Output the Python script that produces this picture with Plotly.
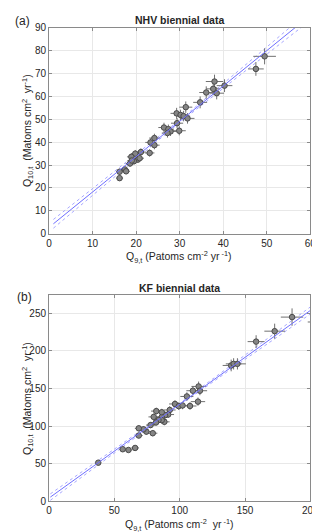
import numpy as np
import plotly.graph_objects as go

# (a) NHV biennial data
nhv_q9 = [49.5, 47.5, 38.0, 37.7, 40.3, 36.1, 38.5, 34.7, 31.4, 29.3, 30.2, 30.9, 31.8,
          29.4, 26.4, 27.4, 27.9, 29.9, 24.2, 23.3, 24.2, 23.1, 21.1, 19.8, 18.9, 20.4,
          19.5, 18.6, 17.4, 17.7, 16.2, 16.2, 27.2, 20.8, 19.0]
nhv_q10 = [77.5, 72.0, 66.5, 63.3, 64.7, 61.7, 61.4, 57.4, 55.3, 52.6, 51.9, 51.4, 50.4,
           48.3, 46.4, 45.7, 44.7, 45.0, 41.8, 39.9, 38.7, 35.3, 35.7, 35.0, 33.6, 32.4,
           31.7, 30.7, 28.1, 27.3, 27.1, 24.3, 44.0, 33.0, 32.0]
nhv_q9_err = [2.6, 1.8, 2.0, 1.6, 1.8, 1.6, 1.7, 1.6, 1.5, 1.4, 1.5, 1.5, 1.6,
              1.4, 1.3, 1.3, 1.3, 1.5, 1.2, 1.2, 1.2, 1.1, 1.1, 1.0, 1.0, 1.1,
              1.0, 1.0, 0.9, 0.9, 0.8, 0.8, 1.3, 1.0, 1.0]
nhv_q10_err = [3.5, 3.0, 3.0, 2.8, 2.8, 2.7, 2.7, 2.6, 2.5, 2.4, 2.3, 2.3, 2.3,
               2.2, 2.1, 2.0, 2.0, 2.0, 1.9, 1.8, 1.8, 1.6, 1.6, 1.6, 1.5, 1.5,
               1.5, 1.4, 1.3, 1.3, 1.3, 1.2, 2.0, 1.5, 1.5]

# (b) KF biennial data
kf_q9 = [186.0, 172.7, 158.5, 139.4, 141.3, 144.2, 114.5, 110.1, 115.5, 105.5, 114.0, 96.4,
         99.3, 102.2, 107.9, 92.4, 91.2, 88.8, 86.3, 88.3, 86.3, 83.8, 82.1, 86.3, 80.1,
         81.9, 77.7, 79.4, 74.5, 72.3, 68.7, 68.7, 65.9, 60.8, 56.4, 37.7, 210.0]
kf_q10 = [245.0, 226.3, 212.4, 180.7, 182.8, 182.8, 152.8, 147.1, 147.1, 139.5, 132.6, 129.5,
          126.6, 127.5, 126.8, 121.5, 115.4, 114.5, 112.0, 105.7, 108.0, 108.0, 120.0, 118.5, 112.3,
          104.9, 101.4, 90.6, 92.7, 95.8, 97.1, 87.5, 71.0, 68.3, 69.3, 51.4, 238.5]
kf_q9_err = [8.6, 7.9, 6.5, 6.5, 6.0, 6.5, 5.5, 5.0, 5.5, 5.0, 5.5, 4.5,
             4.5, 4.5, 5.0, 4.5, 4.5, 4.0, 4.0, 4.0, 4.0, 4.0, 4.0, 4.0, 4.0,
             4.0, 3.5, 3.5, 3.5, 3.5, 3.0, 3.0, 3.0, 3.0, 2.5, 1.5, 12.0]
kf_q10_err = [11.6, 10.0, 8.5, 7.8, 7.5, 7.5, 6.5, 6.0, 6.0, 5.5, 5.5, 5.0,
              5.0, 5.0, 5.0, 5.0, 4.5, 4.5, 4.5, 4.5, 4.5, 4.5, 4.5, 4.5, 4.5,
              4.0, 4.0, 4.0, 4.0, 4.0, 4.0, 3.5, 3.0, 3.0, 3.0, 2.0, 10.0]

# regression line and confidence band (slope, intercept, band centre, band params)
fit_a = dict(slope=1.544, icpt=2.8, xm=28.0, hw0=0.5, k=0.00461, x0=1.0, x1=60.0)
fit_b = dict(slope=1.247, icpt=4.4, xm=95.0, hw0=1.2, k=0.00189, x0=1.0, x1=200.0)

TXT = '#262626'
FONT = 'Liberation Sans, Arial, sans-serif'
LINE = '#6f6fff'

fig = go.Figure()


def add_panel(fig, xs, ys, ex, ey, fit, xa, ya):
    xx = np.linspace(fit['x0'], fit['x1'], 200)
    yy = fit['slope'] * xx + fit['icpt']
    hw = np.sqrt(fit['hw0'] ** 2 + fit['k'] * (xx - fit['xm']) ** 2)
    for off in (-1, 1):
        fig.add_trace(go.Scatter(x=xx, y=yy + off * hw, mode='lines', xaxis=xa, yaxis=ya,
                                 line=dict(color='#a8a8ff', width=1, dash='dot'),
                                 showlegend=False, hoverinfo='skip'))
    fig.add_trace(go.Scatter(
        x=xs, y=ys, mode='markers', xaxis=xa, yaxis=ya, showlegend=False,
        marker=dict(size=5.5, color='#858585', line=dict(color='#4a4a4a', width=1)),
        error_x=dict(type='data', array=ex, color='#707070', thickness=1, width=0),
        error_y=dict(type='data', array=ey, color='#707070', thickness=1, width=0)))
    fig.add_trace(go.Scatter(x=xx, y=yy, mode='lines', xaxis=xa, yaxis=ya,
                             line=dict(color=LINE, width=1), showlegend=False,
                             hoverinfo='skip'))


add_panel(fig, nhv_q9, nhv_q10, nhv_q9_err, nhv_q10_err, fit_a, 'x', 'y')
add_panel(fig, kf_q9, kf_q10, kf_q9_err, kf_q10_err, fit_b, 'x2', 'y2')

ax = dict(showgrid=True, gridcolor='#e8e8e8', gridwidth=1, zeroline=False,
          showline=True, linecolor='#8a8a8a', linewidth=1, mirror='ticks',
          ticks='inside', ticklen=3, tickcolor='#8a8a8a',
          tickfont=dict(family=FONT, size=10, color=TXT))

xd = [39.5 / 320, 311 / 320]
fig.update_layout(
    width=320, height=532, margin=dict(l=0, r=0, t=0, b=0),
    paper_bgcolor='white', plot_bgcolor='white',
    xaxis=dict(ax, domain=xd, range=[0, 60], dtick=10, anchor='y'),
    yaxis=dict(ax, domain=[307 / 532, 517 / 532], range=[0, 90], dtick=10, anchor='x'),
    xaxis2=dict(ax, domain=xd, range=[0, 200], dtick=50, anchor='y2'),
    yaxis2=dict(ax, domain=[34.3 / 532, 244.3 / 532], range=[0, 274], dtick=50, anchor='x2'),
)

ann = [
    dict(text='(a)', x=2 / 320, y=1 - 8 / 532, size=12),
    dict(text='(b)', x=4 / 320, y=1 - 289 / 532, size=12),
    dict(text='<b>NHV biennial data</b>', x=175 / 320, y=1 - 7 / 532, size=10.5),
    dict(text='<b>KF biennial data</b>', x=175 / 320, y=1 - 280 / 532, size=10.5),
    dict(text='Q<sub>9,t</sub> (Patoms cm<sup>-2</sup> yr<sup> -1</sup>)',
         x=175 / 320, y=1 - 249 / 532, size=10.5),
    dict(text='Q<sub>9,t</sub> (Patoms cm<sup>-2</sup>  yr<sup> -1</sup>)',
         x=175 / 320, y=1 - 522 / 532, size=10.5),
]
for a in ann:
    fig.add_annotation(text=a['text'], x=a['x'], y=a['y'], xref='paper', yref='paper',
                       showarrow=False, xanchor='left' if a['text'].startswith('(') else 'center',
                       yanchor='middle', font=dict(family=FONT, size=a['size'], color=TXT))

for yc in (1 - 120 / 532, 1 - 393 / 532):
    fig.add_annotation(text='Q<sub>10,t</sub>  (Matoms cm<sup>2</sup>  yr<sup>-1</sup>)',
                       x=17 / 320, y=yc, xref='paper', yref='paper', showarrow=False,
                       textangle=-90, xanchor='center', yanchor='middle',
                       font=dict(family=FONT, size=10.5, color=TXT))

fig.write_html('out.html')
